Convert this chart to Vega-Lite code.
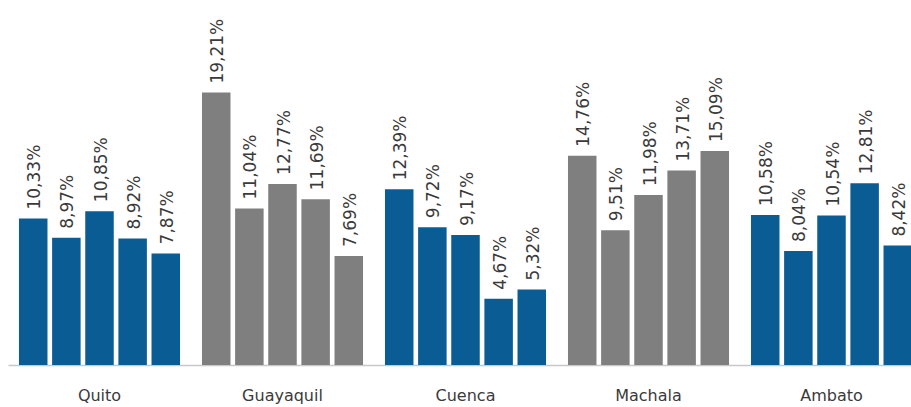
{
  "$schema": "https://vega.github.io/schema/vega-lite/v6.json",
  "width": 911,
  "height": 365,
  "autosize": {"type": "none"},
  "padding": {"top": 0, "left": 0, "right": 0, "bottom": 42},
  "background": "white",
  "config": {"view": {"stroke": null}},
  "data": {
    "values": [
      {"city": "Quito", "serie": 1, "value": 10.33, "label": "10,33%"},
      {"city": "Quito", "serie": 2, "value": 8.97, "label": "8,97%"},
      {"city": "Quito", "serie": 3, "value": 10.85, "label": "10,85%"},
      {"city": "Quito", "serie": 4, "value": 8.92, "label": "8,92%"},
      {"city": "Quito", "serie": 5, "value": 7.87, "label": "7,87%"},
      {"city": "Guayaquil", "serie": 1, "value": 19.21, "label": "19,21%"},
      {"city": "Guayaquil", "serie": 2, "value": 11.04, "label": "11,04%"},
      {"city": "Guayaquil", "serie": 3, "value": 12.77, "label": "12,77%"},
      {"city": "Guayaquil", "serie": 4, "value": 11.69, "label": "11,69%"},
      {"city": "Guayaquil", "serie": 5, "value": 7.69, "label": "7,69%"},
      {"city": "Cuenca", "serie": 1, "value": 12.39, "label": "12,39%"},
      {"city": "Cuenca", "serie": 2, "value": 9.72, "label": "9,72%"},
      {"city": "Cuenca", "serie": 3, "value": 9.17, "label": "9,17%"},
      {"city": "Cuenca", "serie": 4, "value": 4.67, "label": "4,67%"},
      {"city": "Cuenca", "serie": 5, "value": 5.32, "label": "5,32%"},
      {"city": "Machala", "serie": 1, "value": 14.76, "label": "14,76%"},
      {"city": "Machala", "serie": 2, "value": 9.51, "label": "9,51%"},
      {"city": "Machala", "serie": 3, "value": 11.98, "label": "11,98%"},
      {"city": "Machala", "serie": 4, "value": 13.71, "label": "13,71%"},
      {"city": "Machala", "serie": 5, "value": 15.09, "label": "15,09%"},
      {"city": "Ambato", "serie": 1, "value": 10.58, "label": "10,58%"},
      {"city": "Ambato", "serie": 2, "value": 8.04, "label": "8,04%"},
      {"city": "Ambato", "serie": 3, "value": 10.54, "label": "10,54%"},
      {"city": "Ambato", "serie": 4, "value": 12.81, "label": "12,81%"},
      {"city": "Ambato", "serie": 5, "value": 8.42, "label": "8,42%"}
    ]
  },
  "encoding": {
    "x": {
      "field": "city",
      "type": "nominal",
      "sort": ["Quito", "Guayaquil", "Cuenca", "Machala", "Ambato"],
      "scale": {"range": [8, 923], "paddingInner": 0.12, "paddingOuter": 0.06},
      "axis": {
        "title": null,
        "labelAngle": 0,
        "ticks": false,
        "domainColor": "#c8c8c8",
        "domainWidth": 1.5,
        "labelFont": "DejaVu Sans",
        "labelFontSize": 16,
        "labelColor": "#3a3a3a",
        "labelPadding": 22,
        "labelBaseline": "top"
      }
    },
    "xOffset": {
      "field": "serie",
      "type": "nominal",
      "scale": {"paddingInner": 0.14, "paddingOuter": 0}
    },
    "y": {
      "field": "value",
      "type": "quantitative",
      "scale": {"domain": [0, 25.74], "nice": false},
      "axis": null
    }
  },
  "layer": [
    {
      "mark": {"type": "bar"},
      "encoding": {
        "color": {
          "field": "city",
          "type": "nominal",
          "scale": {
            "domain": ["Quito", "Guayaquil", "Cuenca", "Machala", "Ambato"],
            "range": ["#0a5c95", "#7f7f7f", "#0a5c95", "#7f7f7f", "#0a5c95"]
          },
          "legend": null
        }
      }
    },
    {
      "mark": {
        "type": "text",
        "angle": 270,
        "align": "left",
        "baseline": "middle",
        "dx": 9,
        "dy": 2,
        "font": "DejaVu Sans",
        "fontSize": 17,
        "color": "#3a3a3a"
      },
      "encoding": {
        "text": {"field": "label", "type": "nominal"}
      }
    }
  ]
}
